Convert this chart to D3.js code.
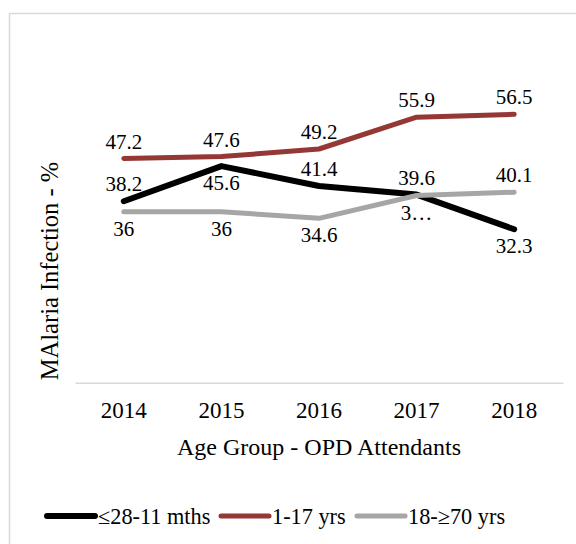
<!DOCTYPE html>
<html>
<head>
<meta charset="UTF-8">
<title>Malaria infection by age group</title>
<script src="https://cdn.jsdelivr.net/npm/d3@7"></script>
<style>
  body { margin: 0; background: #fff; }
  svg text { font-family: "Liberation Serif", "Times New Roman", serif; fill: #000; }
</style>
</head>
<body>
<div id="chart"></div>
<script>
// years on the x axis
var years = ["2014", "2015", "2016", "2017", "2018"];

// series
var infants = [38.2, 45.6, 41.4, 39.6, 32.3];
var children = [47.2, 47.6, 49.2, 55.9, 56.5];
var adults = [36, 36, 34.6, 39.4, 40.1];

// label text (the 2017 adult label is clipped in the original)
var infantLabels = ["38.2", "45.6", "41.4", "39.6", "32.3"];
var childLabels = ["47.2", "47.6", "49.2", "55.9", "56.5"];
var adultLabels = ["36", "36", "34.6", "3…", "40.1"];

// where each label sits relative to its point
var infantSide = ["up", "down", "up", "up", "down"];
var childSide = ["up", "up", "up", "up", "up"];
var adultSide = ["down", "down", "down", "down", "up"];

var seriesNames = ["≤28-11 mths", "1-17 yrs", "18-≥70 yrs"];

var series = [
  {name: seriesNames[0], values: infants, labels: infantLabels, side: infantSide, color: "#000000", width: 6},
  {name: seriesNames[1], values: children, labels: childLabels, side: childSide, color: "#953735", width: 5},
  {name: seriesNames[2], values: adults, labels: adultLabels, side: adultSide, color: "#a6a6a6", width: 5}
];

var W = 576, H = 544;
var plot = {left: 75, right: 563, top: 97.7, bottom: 382.7};

var svg = d3.select("#chart").append("svg")
    .attr("width", W)
    .attr("height", H);

// outer chart frame, runs off the right and bottom edges
svg.append("rect")
    .attr("x", 9.5).attr("y", 13.5)
    .attr("width", W).attr("height", H)
    .attr("fill", "#fff")
    .attr("stroke", "#d9d9d9")
    .attr("stroke-width", 1.5);

var x = d3.scaleBand().domain(years).range([plot.left, plot.right]);
var y = d3.scaleLinear().domain([0, 60]).range([plot.bottom, plot.top]);

// x axis
var xAxis = svg.append("g")
    .attr("transform", "translate(0," + plot.bottom + ")")
    .call(d3.axisBottom(x).tickSize(0).tickPadding(0));
xAxis.select(".domain").attr("stroke", "#d9d9d9").attr("stroke-width", 1.5);
xAxis.selectAll(".tick text")
    .attr("dy", null)
    .attr("y", 35.5)
    .style("font-size", "23px")
    .style("font-family", "Liberation Serif");

svg.append("text")
    .attr("x", 319).attr("y", 455)
    .attr("text-anchor", "middle")
    .style("font-size", "24px")
    .text("Age Group - OPD Attendants");

svg.append("text")
    .attr("transform", "translate(58,271) rotate(-90)")
    .attr("text-anchor", "middle")
    .style("font-size", "24.5px")
    .text("MAlaria Infection - %");

var cx = function(i) { return x(years[i]) + x.bandwidth() / 2; };

var line = d3.line()
    .x(function(d, i) { return cx(i); })
    .y(function(d) { return y(d); });

series.forEach(function(s) {
  svg.append("path")
      .datum(s.values)
      .attr("d", line)
      .attr("fill", "none")
      .attr("stroke", s.color)
      .attr("stroke-width", s.width)
      .attr("stroke-linecap", "round")
      .attr("stroke-linejoin", "round");
});

series.forEach(function(s) {
  svg.selectAll(null)
      .data(s.values)
      .enter().append("text")
      .attr("x", function(d, i) { return cx(i); })
      .attr("y", function(d, i) { return y(d) + (s.side[i] === "up" ? -10 : 24); })
      .attr("text-anchor", "middle")
      .style("font-size", "21px")
      .text(function(d, i) { return s.labels[i]; });
});

// legend
var legendX = [47, 221, 357];
var legend = svg.selectAll(".legend")
    .data(series)
    .enter().append("g")
    .attr("class", "legend")
    .attr("transform", function(d, i) { return "translate(" + legendX[i] + ",516)"; });

legend.append("line")
    .attr("x1", 0).attr("x2", 48)
    .attr("stroke", function(d) { return d.color; })
    .attr("stroke-width", function(d) { return d.width; })
    .attr("stroke-linecap", "round");

legend.append("text")
    .attr("x", 51).attr("y", 8)
    .style("font-size", "22.3px")
    .text(function(d) { return d.name; });
</script>
</body>
</html>
